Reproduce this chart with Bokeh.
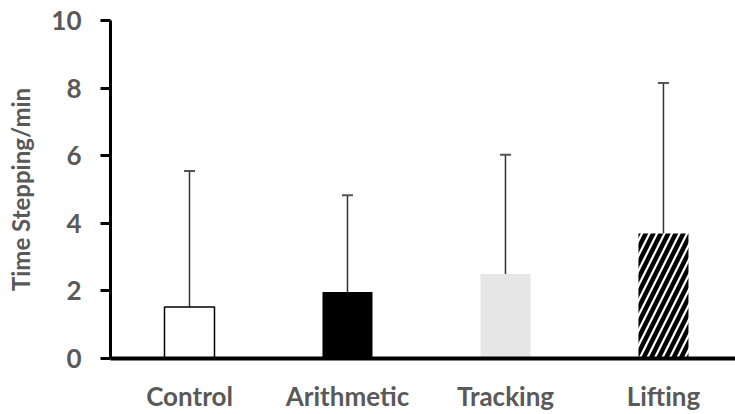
from bokeh.plotting import figure
from bokeh.models import ColumnDataSource, FixedTicker, Whisker, TeeHead, Range1d
from bokeh.embed import file_html
from bokeh.resources import INLINE

categories = ["Control", "Arithmetic", "Tracking", "Lifting"]
means = [1.52, 1.97, 2.50, 3.70]
err_top = [5.55, 4.83, 6.03, 8.15]
y_ticks = [0, 2, 4, 6, 8, 10]

xs = list(range(1, len(categories) + 1))
fills = ["white", "black", "#e6e6e6", "white"]
hatches = [" ", " ", " ", "/"]

p = figure(width=735, height=414, output_backend="svg", toolbar_location=None,
           x_range=Range1d(0.5, 4.456), y_range=Range1d(0, 10),
           min_border_left=110, min_border_right=0, min_border_top=20, min_border_bottom=54)
p.outline_line_color = None
p.xgrid.grid_line_color = None
p.ygrid.grid_line_color = None

src = ColumnDataSource(dict(x=xs, top=means, fill=fills, line=["black", "black", "#e6e6e6", "white"],
                            lw=[1.5, 0, 0, 0], hatch=hatches, up=err_top))
p.vbar(x="x", top="top", bottom=0, width=50/158, fill_color="fill", line_color="line",
       line_width="lw", hatch_pattern="hatch", hatch_color="black", hatch_scale=15,
       hatch_weight=4.5, source=src)

w = Whisker(base="x", lower="top", upper="up", source=src, dimension="height",
            line_color="#333333", line_width=1.5,
            upper_head=TeeHead(size=11, line_color="#555555", line_width=2), lower_head=None)
p.add_layout(w)

font = "Lato"
grey = "#595959"
p.yaxis.ticker = FixedTicker(ticks=y_ticks)
p.yaxis.minor_tick_line_color = None
p.yaxis.major_tick_in = 0
p.yaxis.major_tick_out = 10
p.yaxis.major_tick_line_width = 3
p.yaxis.axis_line_width = 3
p.yaxis.axis_line_color = "black"
p.yaxis.major_tick_line_color = "black"
p.yaxis.major_label_text_font = font
p.yaxis.major_label_text_font_style = "bold"
p.yaxis.major_label_text_font_size = "26px"
p.yaxis.major_label_text_color = grey
p.yaxis.major_label_standoff = 19
p.yaxis.axis_label = "Time Stepping/min"
p.yaxis.axis_label_text_font = font
p.yaxis.axis_label_text_font_style = "bold"
p.yaxis.axis_label_text_font_size = "24px"
p.yaxis.axis_label_text_color = grey
p.yaxis.axis_label_standoff = 13

p.xaxis.ticker = FixedTicker(ticks=xs)
p.xaxis.major_label_overrides = {x: c for x, c in zip(xs, categories)}
p.xaxis.minor_tick_line_color = None
p.xaxis.major_tick_line_color = None
p.xaxis.axis_line_width = 4
p.xaxis.axis_line_color = "black"
p.xaxis.major_label_text_font = font
p.xaxis.major_label_text_font_style = "bold"
p.xaxis.major_label_text_font_size = "26px"
p.xaxis.major_label_text_color = grey
p.xaxis.major_label_standoff = 15

open("out.html", "w").write(file_html(p, INLINE))
